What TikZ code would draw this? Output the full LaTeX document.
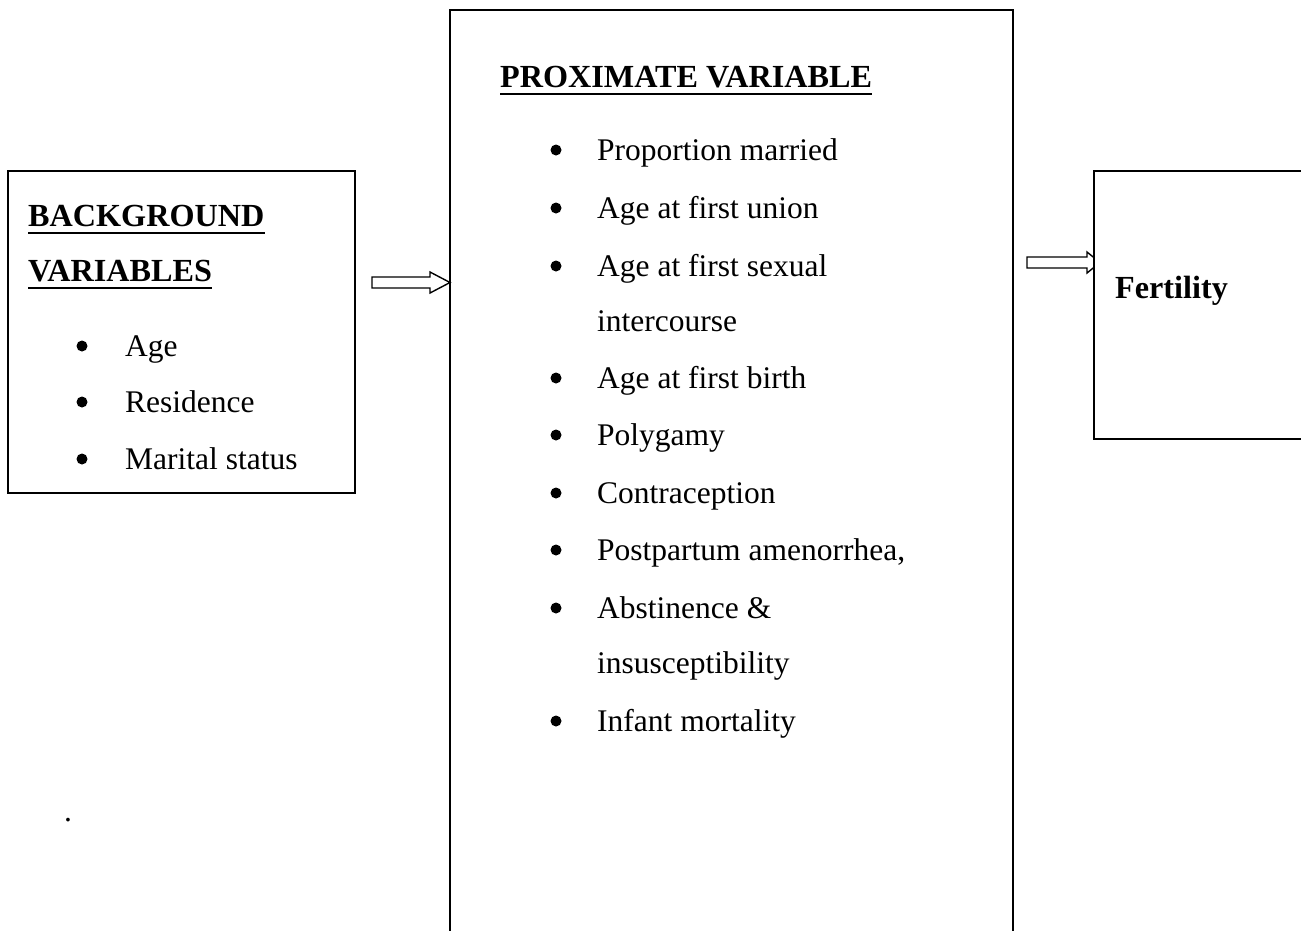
\documentclass[tikz,border=0pt]{standalone}
\usepackage{fontspec}
\setmainfont{Liberation Serif}
\begin{document}
\begin{tikzpicture}[x=1pt,y=-1pt,
  box/.style={draw=black,line width=1.6pt,fill=white},
  txt/.style={inner sep=0pt,anchor=base west,font=\fontsize{31.5}{38}\selectfont},
  head/.style={txt,font=\fontsize{32.2}{38}\selectfont\bfseries},
  uline/.style={line width=2.6pt},
  bul/.style={fill=black,draw=none},
  blockarrow/.style={draw=black,line width=1.4pt,fill=white,line join=miter}]
\useasboundingbox (0,0) rectangle (1301,930);
\fill[white] (0,0) rectangle (1301,930);

% left box
\draw[box] (8,171) rectangle (355,493);
\node[head] (bg1) at (28,226) {BACKGROUND};
\node[head] (bg2) at (28,281) {VARIABLES};
\draw[uline] ([yshift=-7pt]bg1.base west) -- ([yshift=-7pt]bg1.base east);
\draw[uline] ([yshift=-7pt]bg2.base west) -- ([yshift=-7pt]bg2.base east);
\foreach \t/\y [count=\i] in {Age/356,Residence/412,Marital status/469}{
  \node[txt] (b\i) at (125,\y) {\t};
  \fill[bul] (82,\y-10) circle (5.5);
}

% middle box (open at the bottom)
\draw[box] (450,935) -- (450,10) -- (1013,10) -- (1013,935);
\node[head] (px) at (500,87) {PROXIMATE VARIABLE};
\draw[uline] ([yshift=-7pt]px.base west) -- ([yshift=-7pt]px.base east);
\foreach \t/\y [count=\i] in {Proportion married/160,Age at first union/218,Age at first sexual/276,Age at first birth/388,Polygamy/445,Contraception/503,{Postpartum amenorrhea,}/560,Abstinence \&/618,Infant mortality/731}{
  \node[txt] (m\i) at (597,\y) {\t};
  \fill[bul] (556,\y-10) circle (5.5);
}
\node[txt] (mc1) at (597,331) {intercourse};
\node[txt] (mc2) at (597,673) {insusceptibility};

% dot
\node[txt] (dot) at (64,821) {.};

% arrows
\coordinate (a1) at (372,282.5);
\draw[blockarrow] (a1) ++(0,-5.5) -- ++(58,0) -- ++(0,-5) -- (450,282.5) -- (430,293) -- ++(0,-5) -- ++(-58,0) -- cycle;
\coordinate (a2) at (1027,262.5);
\draw[blockarrow] (a2) ++(0,-5.5) -- ++(60,0) -- ++(0,-5) -- (1100,262.5) -- (1087,273) -- ++(0,-5) -- ++(-60,0) -- cycle;

% right box (open at the right)
\fill[white] (1094,171) rectangle (1310,439);
\draw[box] (1310,171) -- (1094,171) -- (1094,439) -- (1310,439);
\node[head] (fe) at (1115,298) {Fertility};
\end{tikzpicture}
\end{document}
